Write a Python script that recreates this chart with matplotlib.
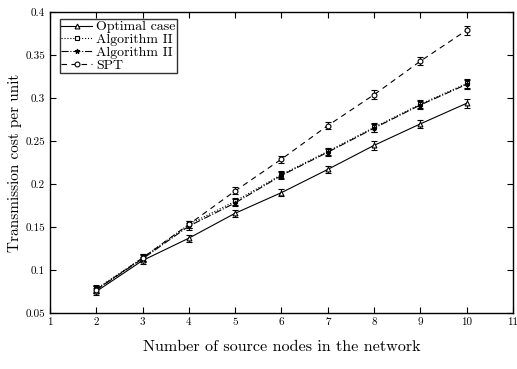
import matplotlib
matplotlib.use("Agg")
import matplotlib.pyplot as plt

plt.rcParams['font.family'] = 'serif'
plt.rcParams['font.serif'] = ['cmr10', 'DejaVu Serif']
plt.rcParams['mathtext.fontset'] = 'cm'
plt.rcParams['axes.formatter.use_mathtext'] = True

x = [2, 3, 4, 5, 6, 7, 8, 9, 10]
optimal = [0.075, 0.111, 0.137, 0.166, 0.190, 0.217, 0.245, 0.270, 0.294]
alg_sq = [0.078, 0.114, 0.153, 0.180, 0.211, 0.238, 0.266, 0.293, 0.317]
alg_star = [0.077, 0.113, 0.151, 0.178, 0.210, 0.237, 0.265, 0.292, 0.316]
spt = [0.077, 0.114, 0.153, 0.192, 0.229, 0.268, 0.304, 0.343, 0.379]
err = [0.004, 0.004, 0.004, 0.004, 0.004, 0.004, 0.005, 0.005, 0.005]

labels = ['Optimal case', 'Algorithm II', 'Algorithm II', 'SPT']
xticks = [1, 2, 3, 4, 5, 6, 7, 8, 9, 10, 11]
yticks = [0.05, 0.1, 0.15, 0.2, 0.25, 0.3, 0.35, 0.4]
ytick_labels = ['0.05', '0.1', '0.15', '0.2', '0.25', '0.3', '0.35', '0.4']

fig = plt.figure(figsize=(5.17, 3.69), dpi=100)
ax = fig.add_axes([0.0967, 0.152, 0.8955, 0.815])

common = dict(color='black', linewidth=0.8, markersize=3.5, capsize=2.5,
              elinewidth=0.8, markeredgewidth=0.8, markerfacecolor='white')
c_a = ax.errorbar(x, optimal, yerr=err, marker='^', linestyle='-', **common)
c_b = ax.errorbar(x, alg_sq, yerr=err, marker='s', linestyle=':', **common)
c2 = dict(common); c2['markerfacecolor'] = 'black'
c_c = ax.errorbar(x, alg_star, yerr=err, marker='*', linestyle='-.', **c2)
c_d = ax.errorbar(x, spt, yerr=err, marker='o', linestyle=(0, (5, 4)), **common)

ax.set_xlim(1, 11)
ax.set_ylim(0.05, 0.4)
ax.set_xticks(xticks)
ax.set_xticklabels([str(t) for t in xticks])
ax.set_yticks(yticks)
ax.set_yticklabels(ytick_labels)
ax.tick_params(direction='in', labelsize=8, length=4, width=0.8, top=True, right=True)
for s in ax.spines.values():
    s.set_linewidth(1.0)

ax.set_xlabel('Number of source nodes in the network', fontsize=11.6, labelpad=9)
ax.set_ylabel('Transmission cost per unit', fontsize=11, labelpad=2)

handles = [c[0] for c in (c_a, c_b, c_c, c_d)]
leg = ax.legend(handles, labels, loc='upper left', bbox_to_anchor=(0.021, 0.977), fontsize=10,
                frameon=True, fancybox=False, edgecolor='black', handlelength=2.2,
                borderpad=0.12, labelspacing=0.0, handletextpad=0.3, borderaxespad=0.0)
leg.get_frame().set_linewidth(1.0)

fig.savefig('out.png', dpi=100)
